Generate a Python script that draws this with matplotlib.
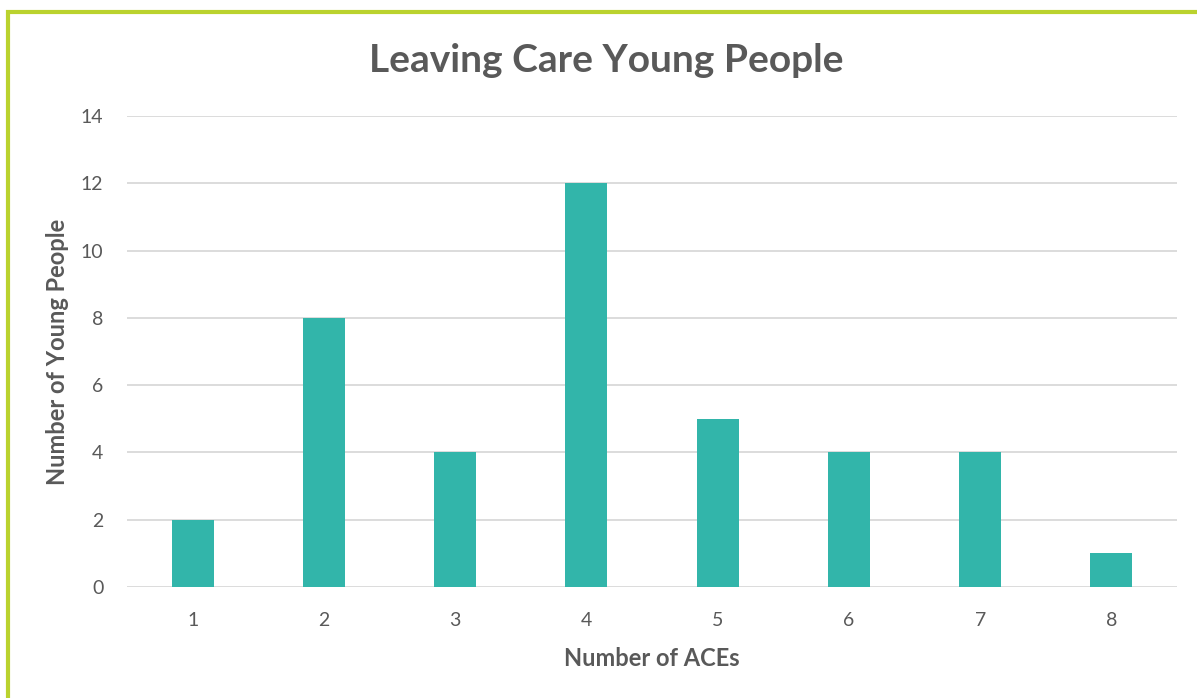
import matplotlib.pyplot as plt
import matplotlib.patches as patches

# data
aces = ['1', '2', '3', '4', '5', '6', '7', '8']
young_people = [2, 8, 4, 12, 5, 4, 4, 1]

plt.rcParams['font.family'] = ['Lato', 'DejaVu Sans']
txt = '#595959'

fig = plt.figure(figsize=(11.97, 6.98), dpi=100)
ax = fig.add_axes([127 / 1197, 1 - 587 / 698, (1177 - 127) / 1197, (587 - 116) / 698])

ax.bar(range(len(aces)), young_people, width=0.32, color='#32B5AA', zorder=3)
ax.set_xlim(-0.5, len(aces) - 0.5)
ax.set_ylim(0, 14)
ax.set_yticks(range(0, 15, 2))
ax.set_xticks(range(len(aces)))
ax.set_xticklabels(aces)
ax.yaxis.grid(True, color='#D9D9D9', linewidth=1.3, zorder=0)
for s in ax.spines.values():
    s.set_visible(False)
ax.tick_params(length=0, labelsize=14, colors=txt)
ax.tick_params(axis='x', pad=18)
ax.tick_params(axis='y', pad=17)

fig.text(606 / 1197, 1 - 60 / 698, 'Leaving Care Young People', ha='center', va='center',
         fontsize=28, fontweight='bold', color=txt)
fig.text(652 / 1197, 1 - 659 / 698, 'Number of ACEs', ha='center', va='center',
         fontsize=17, fontweight='bold', color=txt)
fig.text(58 / 1197, 1 - 352 / 698, 'Number of Young People', ha='center', va='center',
         rotation=90, fontsize=17, fontweight='bold', color=txt)

# green frame around the chart (right and bottom edges off the image)
fig.patches.append(patches.Rectangle((7.5 / 1197, -0.1), 1.2, 1 - 11.5 / 698 + 0.1,
                                     transform=fig.transFigure, fill=False,
                                     edgecolor='#BAD22E', linewidth=3))

fig.savefig('out.png', dpi=100)
